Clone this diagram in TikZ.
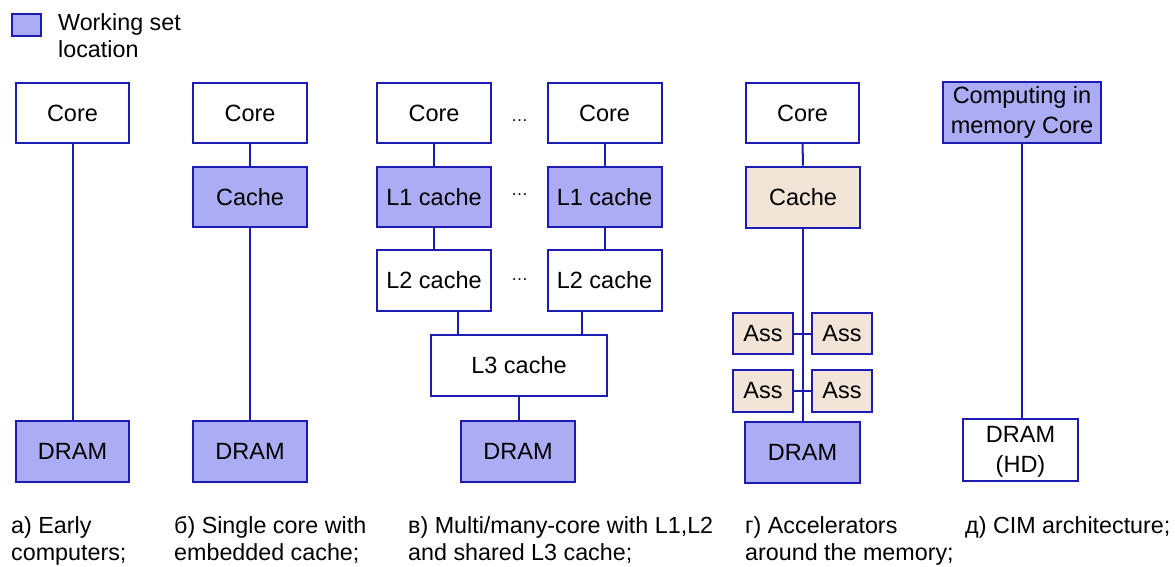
\documentclass[tikz,border=0pt]{standalone}
\usepackage{fontspec}
\setmainfont{Liberation Sans}
\definecolor{edge}{RGB}{28,28,178}
\definecolor{wset}{RGB}{172,172,244}
\definecolor{accel}{RGB}{243,228,216}
\newcommand\boxfont{\fontsize{23.5}{30}\selectfont}
\newcommand\capfont{\fontsize{23.3}{27.5}\selectfont}
\tikzset{
  blk/.style={draw=edge, line width=2pt, fill=white, inner sep=0pt, align=center, font=\boxfont},
  ws/.style={blk, fill=wset},
  acc/.style={blk, fill=accel},
  link/.style={draw=edge, line width=2pt},
  % the base anchor of a two-line caption sits on its last line
  caption/.style={anchor=base west, align=left, inner sep=0pt, font=\capfont},
  gap/.style={font=\fontsize{17}{20}\selectfont, inner sep=0pt}
}
\begin{document}
\begin{tikzpicture}[x=1pt, y=-1pt]
\useasboundingbox (0,0) rectangle (1175,566);

% legend
\node[ws, minimum width=29pt, minimum height=22pt] (key) at (26.5,25) {};
\node[caption] (keytext) at (58,57.5) {Working set\\location};

% a) early computers
\node[blk, minimum width=113pt, minimum height=60pt] (a-core) at (72.5,113) {Core};
\node[ws,  minimum width=113pt, minimum height=61pt] (a-dram) at (72.5,451.5) {DRAM};
\draw[link] (a-core) -- (a-dram);

% b) single core with embedded cache
\node[blk, minimum width=114pt, minimum height=60pt] (b-core)  at (250,113) {Core};
\node[ws,  minimum width=114pt, minimum height=60pt] (b-cache) at (250,197) {Cache};
\node[ws,  minimum width=114pt, minimum height=61pt] (b-dram)  at (250,451.5) {DRAM};
\draw[link] (b-core) -- (b-cache);
\draw[link] (b-cache) -- (b-dram);

% c) multi/many-core
\node[blk, minimum width=114pt, minimum height=60pt] (c-core1) at (434,113) {Core};
\node[blk, minimum width=114pt, minimum height=60pt] (c-core2) at (604.5,113) {Core};
\node[ws,  minimum width=114pt, minimum height=60pt] (c-l1a) at (434,197) {L1 cache};
\node[ws,  minimum width=114pt, minimum height=60pt] (c-l1b) at (604.5,197) {L1 cache};
\node[blk, minimum width=114pt, minimum height=61pt] (c-l2a) at (434,280.5) {L2 cache};
\node[blk, minimum width=114pt, minimum height=61pt] (c-l2b) at (604.5,280.5) {L2 cache};
\node[blk, minimum width=176pt, minimum height=61pt] (c-l3) at (519,365.5) {L3 cache};
\node[ws,  minimum width=114pt, minimum height=61pt] (c-dram) at (518,451.5) {DRAM};
\node[gap] (c-dots1) at (519.5,121) {…};
\node[gap] (c-dots2) at (519.5,195) {…};
\node[gap] (c-dots3) at (519.5,280) {…};
\draw[link] (c-core1) -- (c-l1a);
\draw[link] (c-core2) -- (c-l1b);
\draw[link] (c-l1a) -- (c-l2a);
\draw[link] (c-l1b) -- (c-l2b);
\draw[link] ([xshift=24pt]c-l2a.south) -- ([xshift=24pt]c-l2a.south |- c-l3.north);
\draw[link] ([xshift=-22.5pt]c-l2b.south) -- ([xshift=-22.5pt]c-l2b.south |- c-l3.north);
\draw[link] (c-l3.south) -- (c-l3.south |- c-dram.north);

% d) accelerators around the memory
\node[blk, minimum width=113pt, minimum height=60pt] (d-core)  at (802.5,113) {Core};
\node[acc, minimum width=114pt, minimum height=61pt] (d-cache) at (803,197) {Cache};
\node[ws,  minimum width=115pt, minimum height=61pt] (d-dram)  at (802.5,452) {DRAM};
\draw[link] (d-core) -- (d-cache);
\draw[link] (d-cache.south) -- (d-cache.south |- d-dram.north);
\node[acc, minimum width=60pt, minimum height=41pt] (d-ass1) at (763,333.5) {Ass};
\node[acc, minimum width=60pt, minimum height=41pt] (d-ass2) at (842,333.5) {Ass};
\node[acc, minimum width=60pt, minimum height=42pt] (d-ass3) at (763,391) {Ass};
\node[acc, minimum width=60pt, minimum height=42pt] (d-ass4) at (842,391) {Ass};
\draw[link] (d-ass1) -- (d-ass2);
\draw[link] (d-ass3) -- (d-ass4);

% e) computing in memory
\node[ws,  minimum width=158pt, minimum height=61pt] (e-cim)  at (1022,112.5) {Computing in\\memory Core};
\node[blk, minimum width=115pt, minimum height=62pt, text depth=2pt] (e-dram) at (1020.5,450) {DRAM\\(HD)};
\draw[link] (e-cim.south) -- (e-cim.south |- e-dram.north);

% captions
\node[caption] (cap-a) at (11,560.5) {а) Early\\computers;};
\node[caption] (cap-b) at (174,560.5) {б) Single core with\\embedded cache;};
\node[caption] (cap-c) at (408,560.5) {в) Multi/many-core with L1,L2\\and shared L3 cache;};
\node[caption] (cap-d) at (745,560.5) {г) Accelerators\\around the memory;};
\node[caption] (cap-e) at (965,533) {д) CIM architecture;};
\end{tikzpicture}
\end{document}
